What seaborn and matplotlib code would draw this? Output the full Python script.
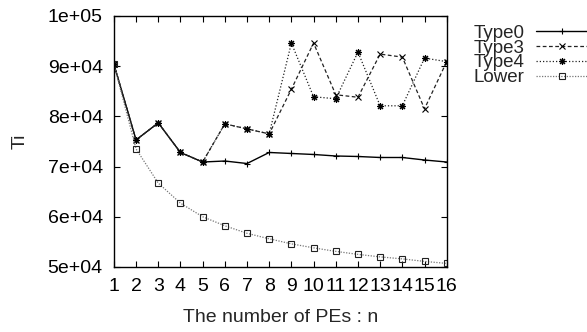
import matplotlib
matplotlib.use("Agg")
import matplotlib.pyplot as plt
import seaborn as sns
import numpy as np
import pandas as pd

n = list(range(1, 17))
type0 = [90400, 75300, 78700, 72800, 70900, 71100, 70600, 72800,
         72600, 72400, 72100, 72000, 71800, 71800, 71300, 70900]
type3 = [90400, 75300, 78700, 72800, 70900, 78500, 77500, 76500,
         85400, 94600, 84300, 83800, 92400, 91800, 81500, 90900]
type4 = [90400, 75300, 78700, 72800, 70900, 78500, 77500, 76500,
         94600, 83900, 83500, 92800, 82100, 82100, 91600, 90900]
lower = [90400, 73500, 66700, 62700, 60000, 58200, 56700, 55600,
         54600, 53800, 53100, 52500, 52000, 51600, 51100, 50700]
yticks = [50000, 60000, 70000, 80000, 90000, 100000]

sns.set_style("ticks")
plt.rcParams['font.family'] = ['Liberation Sans', 'DejaVu Sans']
plt.rcParams['font.size'] = 14

fig = plt.figure(figsize=(5.87, 3.32), dpi=100)
ax = fig.add_axes([0.194, 0.196, 0.567, 0.756])

common = dict(ax=ax, markersize=5, markeredgewidth=0.8)
sns.lineplot(x=n, y=type0, color='black', linewidth=1.0, marker='+',
             markeredgecolor='black', label='Type0', **common)
sns.lineplot(x=n, y=type3, color='#222222', linewidth=0.9, marker='x',
             markeredgecolor='black', dashes=(3, 2), label='Type3',
             markersize=4, markeredgewidth=0.8, ax=ax)
sns.lineplot(x=n, y=type4, color='#222222', linewidth=0.9, marker=(8, 2, 0),
             markeredgecolor='black', dashes=(1, 1.6), label='Type4', **common)
sns.lineplot(x=n, y=lower, color='#777777', linewidth=0.9, marker='s',
             markerfacecolor='none', markeredgecolor='#222222',
             dashes=(1, 1.2), label='Lower', markersize=4.5,
             markeredgewidth=0.8, ax=ax)

ax.set_xlim(1, 16)
ax.set_ylim(50000, 100000)
ax.set_xticks(n)
ax.set_xticklabels([str(v) for v in n])
ax.set_yticks(yticks)
ax.set_yticklabels([f"{v:.0e}" for v in yticks])
ax.tick_params(direction='in', top=True, right=True, length=4, width=0.8,
               pad=8, labelsize=14, colors='black')
for s in ax.spines.values():
    s.set_linewidth(1.0)
    s.set_color('black')

ax.set_xlabel("The number of PEs : n", fontsize=14, labelpad=10)
ax.set_ylabel("Ti", fontsize=14, labelpad=14)

ax.legend(loc='upper right', bbox_to_anchor=(1.0, 0.925),
          bbox_transform=fig.transFigure, frameon=False, markerfirst=False,
          labelspacing=-0.13, handlelength=2.7, handletextpad=0.65,
          borderpad=0, borderaxespad=0, fontsize=13.5)

fig.savefig("out.png", dpi=100)
